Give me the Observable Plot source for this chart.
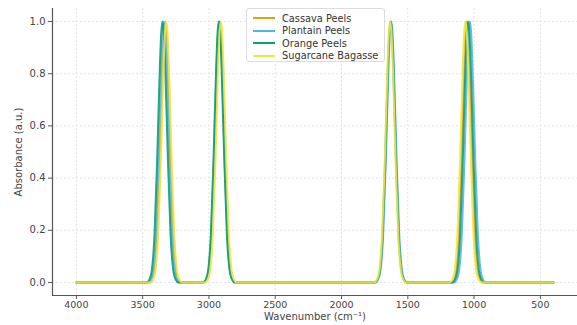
<!DOCTYPE html>
<html>
<head>
<meta charset="utf-8">
<script src="https://cdn.jsdelivr.net/npm/d3@7"></script>
<script src="https://cdn.jsdelivr.net/npm/@observablehq/plot@0.6"></script>
<style>
  html, body { margin: 0; padding: 0; background: #fff; }
  #wrap { position: relative; width: 577px; height: 325px; font-family: "DejaVu Sans", sans-serif; }
  #legend { position: absolute; left: 246px; top: 8px; width: 139px; height: 54px; box-sizing: border-box;
            border: 1px solid #dcdcdc; border-radius: 3px; background: rgba(255,255,255,0.85);
            font-size: 9.8px; color: #333; padding: 3px 0 0 6px; }
  .row { display: flex; align-items: center; height: 12.5px; }
  .sw { width: 22px; height: 2px; margin-right: 7px; }
</style>
</head>
<body>
<div id="wrap"><div id="legend"></div></div>
<script>
// Series names and colours
const seriesNames = ["Cassava Peels", "Plantain Peels", "Orange Peels", "Sugarcane Bagasse"];
const seriesColors = ["#E6A019", "#56B4E9", "#0E9E76", "#F0E442"];

// Peak centres (cm^-1), per series
const cassavaPeaks   = [3328, 2918, 1628, 1055];
const plantainPeaks  = [3340, 2922, 1625, 1032];
const orangePeaks    = [3350, 2925, 1630, 1045];
const sugarcanePeaks = [3322, 2910, 1633, 1065];
const peakHeights = [1.0, 1.0, 1.0, 1.0];

// Shape of one absorption band: offset (cm^-1) and relative absorbance
const bandOffsets = [-120, -100, -80, -60, -40, -20, -10, 0, 10, 20, 40, 60, 80, 100, 120];
const bandValues  = [0, 0.01, 0.05, 0.19, 0.48, 0.83, 0.955, 1, 0.955, 0.83, 0.48, 0.19, 0.05, 0.01, 0];

// Scan range
const scanStart = 4000;
const scanEnd = 400;

// Tick labels and axis titles
const xTicks = [4000, 3500, 3000, 2500, 2000, 1500, 1000, 500];
const yTicks = [0.0, 0.2, 0.4, 0.6, 0.8, 1.0];
const xTitle = "Wavenumber (cm⁻¹)";
const yTitle = "Absorbance (a.u.)";

const peakSets = [cassavaPeaks, plantainPeaks, orangePeaks, sugarcanePeaks];
const rows = [];
seriesNames.forEach((name, i) => {
  const pts = [{x: scanStart, y: 0}];
  peakSets[i].forEach((c, k) => {
    bandOffsets.forEach((o, j) => pts.push({x: c + o, y: bandValues[j] * peakHeights[k]}));
  });
  pts.push({x: scanEnd, y: 0});
  pts.sort((a, b) => b.x - a.x);
  pts.forEach(p => rows.push({series: name, wn: p.x, abs: p.y}));
});

const chart = Plot.plot({
  width: 577,
  height: 325,
  marginLeft: 52,
  marginRight: 0,
  marginTop: 8,
  marginBottom: 30,
  style: {fontFamily: "DejaVu Sans, sans-serif", fontSize: "10px", color: "#444", background: "#fff"},
  x: {domain: [4180, 220]},
  y: {domain: [-0.05, 1.05]},
  color: {domain: seriesNames, range: seriesColors},
  marks: [
    Plot.gridX(xTicks, {stroke: "#e4e4e4", strokeOpacity: 1, strokeDasharray: "2,2"}),
    Plot.gridY(yTicks, {stroke: "#e4e4e4", strokeOpacity: 1, strokeDasharray: "2,2"}),
    Plot.line(rows, {x: "wn", y: "abs", z: "series", stroke: "series", strokeWidth: 2, strokeOpacity: 0.9, curve: "monotone-x"}),
    Plot.ruleX([4180], {stroke: "#555", strokeWidth: 1.2}),
    Plot.ruleY([-0.05], {stroke: "#555", strokeWidth: 1.2}),
    Plot.axisX({ticks: xTicks, tickSize: 4, tickPadding: 2, tickFormat: d => String(d), stroke: "#555",
                label: null, fill: "#444", fontSize: 9.5}),
    Plot.text([xTitle], {frameAnchor: "bottom", dy: 24, fontSize: 10, fill: "#444"}),
    Plot.axisY({ticks: yTicks, tickSize: 4, tickPadding: 3, tickFormat: d3.format(".1f"), stroke: "#555",
                label: yTitle, labelAnchor: "center", labelArrow: "none", labelOffset: 38, fill: "#444"})
  ]
});
document.getElementById("wrap").prepend(chart);
chart.style.position = "absolute";
chart.style.left = "0";
chart.style.top = "0";

const legend = document.getElementById("legend");
seriesNames.forEach((name, i) => {
  const r = document.createElement("div");
  r.className = "row";
  r.innerHTML = `<span class="sw" style="background:${seriesColors[i]}"></span><span>${name}</span>`;
  legend.appendChild(r);
});
</script>
</body>
</html>
